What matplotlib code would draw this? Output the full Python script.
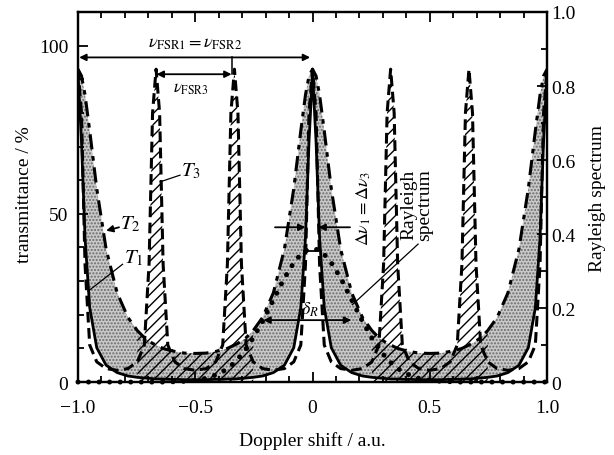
import numpy as np
import matplotlib
matplotlib.use('Agg')
import matplotlib.pyplot as plt
from matplotlib.ticker import MultipleLocator

plt.rcParams['font.family'] = ['Liberation Serif', 'DejaVu Serif']
plt.rcParams['mathtext.fontset'] = 'stix'
plt.rcParams['hatch.linewidth'] = 1.0

# Doppler shift (a.u.)
shift = [-1.0, -0.985, -0.97, -0.95, -0.92, -0.88, -0.833, -0.787, -0.747, -0.717, -0.697, -0.682,
         -0.667, -0.652, -0.637, -0.617, -0.587, -0.547, -0.5, -0.453, -0.413, -0.383, -0.363, -0.348,
         -0.333, -0.318, -0.303, -0.283, -0.253, -0.213, -0.167, -0.12, -0.08, -0.05, -0.03, -0.015,
         0.0,
         0.015, 0.03, 0.05, 0.08, 0.12, 0.167, 0.213, 0.253, 0.283, 0.303, 0.318,
         0.333, 0.348, 0.363, 0.383, 0.413, 0.453, 0.5, 0.547, 0.587, 0.617, 0.637, 0.652,
         0.667, 0.682, 0.697, 0.717, 0.747, 0.787, 0.833, 0.88, 0.92, 0.95, 0.97, 0.985, 1.0]

# transmittance T1 (%), solid
t1 = [92, 71.5, 42.9, 22.1, 10.2, 5.0, 2.8, 1.8, 1.4, 1.2, 1.1, 1.0,
      0.9, 0.9, 0.9, 0.8, 0.8, 0.7, 0.7, 0.7, 0.8, 0.8, 0.9, 0.9,
      0.9, 1.0, 1.1, 1.2, 1.4, 1.8, 2.8, 5.0, 10.2, 22.1, 42.9, 71.5,
      92,
      71.5, 42.9, 22.1, 10.2, 5.0, 2.8, 1.8, 1.4, 1.2, 1.1, 1.0,
      0.9, 0.9, 0.9, 0.8, 0.8, 0.7, 0.7, 0.7, 0.8, 0.8, 0.9, 0.9,
      0.9, 1.0, 1.1, 1.2, 1.4, 1.8, 2.8, 5.0, 10.2, 22.1, 42.9, 71.5, 92]

# transmittance T2 (%), dash-dot
t2 = [93, 91.0, 85.4, 74.7, 57.5, 39.5, 26.5, 19.2, 15.3, 13.2, 12.2, 11.5,
      11.0, 10.5, 10.0, 9.6, 9.1, 8.6, 8.5, 8.6, 9.1, 9.6, 10.0, 10.5,
      11.0, 11.5, 12.2, 13.2, 15.3, 19.2, 26.5, 39.5, 57.5, 74.7, 85.4, 91.0,
      93,
      91.0, 85.4, 74.7, 57.5, 39.5, 26.5, 19.2, 15.3, 13.2, 12.2, 11.5,
      11.0, 10.5, 10.0, 9.6, 9.1, 8.6, 8.5, 8.6, 9.1, 9.6, 10.0, 10.5,
      11.0, 11.5, 12.2, 13.2, 15.3, 19.2, 26.5, 39.5, 57.5, 74.7, 85.4, 91.0, 93]

# transmittance T3 (%), dashed
t3 = [93, 80, 35, 11, 6, 4, 3.5, 4, 6, 11, 35, 80,
      93, 80, 35, 11, 6, 4, 3.5, 4, 6, 11, 35, 80,
      93, 80, 35, 11, 6, 4, 3.5, 4, 6, 11, 35, 80,
      93,
      80, 35, 11, 6, 4, 3.5, 4, 6, 11, 35, 80,
      93, 80, 35, 11, 6, 4, 3.5, 4, 6, 11, 35, 80,
      93, 80, 35, 11, 6, 4, 3.5, 4, 6, 11, 35, 80, 93]

# Rayleigh spectrum (right axis)
rayleigh = [0, 0, 0, 0, 0, 0, 0, 0, 0, 0, 0, 0,
            0, 0, 0, 0, 0.001, 0.002, 0.005, 0.010, 0.019, 0.028, 0.037, 0.044,
            0.053, 0.063, 0.074, 0.090, 0.119, 0.164, 0.222, 0.281, 0.322, 0.345, 0.354, 0.359,
            0.360,
            0.359, 0.354, 0.345, 0.322, 0.281, 0.222, 0.164, 0.119, 0.090, 0.074, 0.063,
            0.053, 0.044, 0.037, 0.028, 0.019, 0.010, 0.005, 0.002, 0.001, 0, 0, 0,
            0, 0, 0, 0, 0, 0, 0, 0, 0, 0, 0, 0, 0]

x = np.array(shift)
y1 = np.array(t1)
y2 = np.array(t2)
y3 = np.array(t3)

fig = plt.figure(figsize=(6.14, 4.56), dpi=100)
ax = fig.add_axes([0.127, 0.16, 0.764, 0.8115])

# shaded band between T1 and T2
ax.fill_between(x, y1, y2, facecolor='#c9c9c9', edgecolor='#6a6a6a',
                hatch='.....', linewidth=0, zorder=1)
# hatched T3 region
mask = (np.abs(x) >= 0.25) & (np.abs(x) <= 0.75)
ax.fill_between(x, 0, np.maximum(y3, y2), where=mask, facecolor='none',
                edgecolor='black', hatch='///', linewidth=0, zorder=2)

ax.plot(x, y1, color='black', lw=2.0, zorder=4)
ax.plot(x, y2, color='black', lw=2.2, dashes=(5, 2.2, 1.5, 2.2), zorder=4)
ax.plot(x, y3, color='black', lw=2.2, dashes=(3.5, 1.8), zorder=4)

ax.set_xlim(-1, 1)
ax.set_ylim(0, 110)
ax.set_xticks([-1, -0.5, 0, 0.5, 1])
ax.set_xticklabels(['\u22121.0', '\u22120.5', '0', '0.5', '1.0'])
ax.set_yticks([0, 50, 100])
ax.xaxis.set_minor_locator(MultipleLocator(0.1))
ax.yaxis.set_minor_locator(MultipleLocator(10))
ax.tick_params(which='both', direction='in', top=True, right=False, labelsize=14, width=1.3)
ax.tick_params(which='major', length=7)
ax.tick_params(which='minor', length=4)
ax.tick_params(axis='x', pad=12)
ax.tick_params(axis='y', pad=7)
for s in ax.spines.values():
    s.set_linewidth(1.6)

ax2 = ax.twinx()
ax2.plot(x, rayleigh, color='black', lw=3.6, linestyle=(0, (0.01, 2.1)),
         dash_capstyle='round', clip_on=False, zorder=5)
ax2.set_ylim(0, 1.0)
ax2.set_yticks([0, 0.2, 0.4, 0.6, 0.8, 1.0])
ax2.set_yticklabels(['0', '0.2', '0.4', '0.6', '0.8', '1.0'])
ax2.yaxis.set_minor_locator(MultipleLocator(0.1))
ax2.tick_params(which='both', direction='in', labelsize=14, width=1.3, pad=3)
ax2.tick_params(which='major', length=7)
ax2.tick_params(which='minor', length=4)
for s in ax2.spines.values():
    s.set_linewidth(1.6)

# annotations
arr = dict(arrowstyle='<|-|>', color='black', lw=1.3, mutation_scale=10, shrinkA=0, shrinkB=0)
one = dict(arrowstyle='-|>', color='black', lw=1.3, mutation_scale=10, shrinkA=0, shrinkB=0)
ax.annotate('', xy=(-0.995, 96.5), xytext=(-0.01, 96.5), arrowprops=arr)
ax.text(-0.5, 101, r'$\nu_{\rm FSR1}=\nu_{\rm FSR2}$', ha='center', va='center', fontsize=13)
ax.annotate('', xy=(-0.665, 91.5), xytext=(-0.345, 91.5), arrowprops=arr)
ax.plot([-0.345, -0.345], [91.5, 96.5], color='black', lw=1.1)
ax.text(-0.52, 87.3, r'$\nu_{\rm FSR3}$', ha='center', va='center', fontsize=12)

ax.annotate('', xy=(-0.03, 46), xytext=(-0.16, 46), arrowprops=one)
ax.annotate('', xy=(0.025, 46), xytext=(0.16, 46), arrowprops=one)
ax.plot([-0.035, 0.035], [39, 39], color='black', lw=1.3)
ax.text(0.22, 52, r'$\Delta\nu_1=\Delta\nu_3$', rotation=90, ha='center', va='center', fontsize=13)

ax.annotate('', xy=(-0.21, 18.4), xytext=(0.165, 18.4), arrowprops=arr)
ax.text(-0.01, 21.8, r'$\delta_R$', ha='center', va='center', fontsize=13)

ax.text(0.445, 53, 'Rayleigh\nspectrum', rotation=90, ha='center', va='center',
        fontsize=14, linespacing=0.95)
ax.plot([0.45, 0.17], [41, 23], color='black', lw=0.9)

ax.text(-0.56, 63, r'$T_3$', ha='left', va='center', fontsize=15)
ax.plot([-0.565, -0.65], [61.5, 59.5], color='black', lw=0.9)
ax.text(-0.82, 47, r'$T_2$', ha='left', va='center', fontsize=15)
ax.annotate('', xy=(-0.88, 45), xytext=(-0.825, 46), arrowprops=one)
ax.text(-0.805, 37, r'$T_1$', ha='left', va='center', fontsize=15)
ax.plot([-0.81, -0.957], [35, 27], color='black', lw=0.9)

fig.text(312 / 614, 1 - 441 / 456, 'Doppler shift / a.u.', ha='center', va='center', fontsize=14)
fig.text(25 / 614, 1 - 195 / 456, 'transmittance / %', rotation=90, ha='center', va='center', fontsize=14)
fig.text(597 / 614, 1 - 198 / 456, 'Rayleigh spectrum', rotation=90, ha='center', va='center', fontsize=14)

fig.savefig('out.png', dpi=100)
